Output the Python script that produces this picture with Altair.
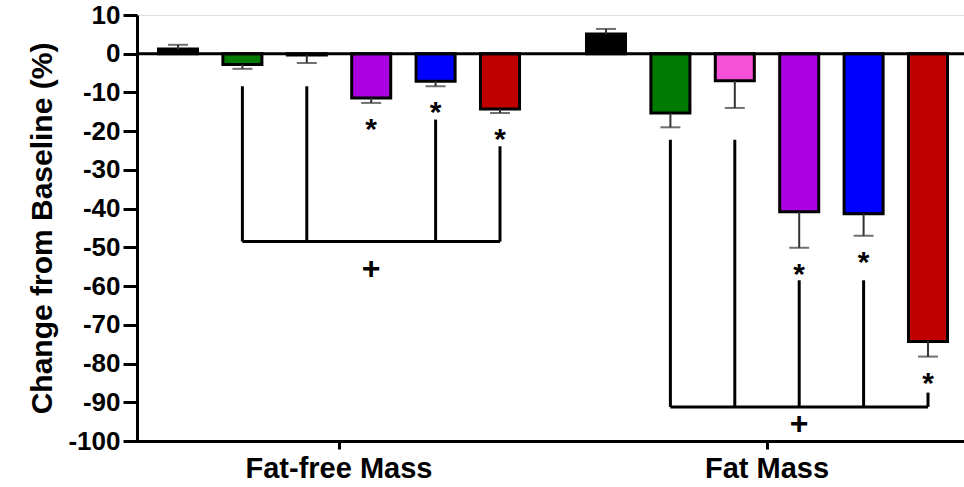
import altair as alt
import pandas as pd

# ---------------- data ----------------
groups = ["Fat-free Mass", "Fat Mass"]
series = ["Control", "Group A", "Group B", "Group C", "Group D", "Group E"]
colors = ["#000000", "#007A00", "#F650D6", "#AA00E2", "#0000FF", "#C00000"]

ffm_mean = [1.2, -2.8, -0.3, -11.4, -7.1, -14.3]
ffm_err = [1.1, 1.1, 2.1, 1.3, 1.3, 1.0]
fm_mean = [5.1, -15.3, -7.0, -40.8, -41.3, -74.3]
fm_err = [1.3, 3.7, 7.0, 9.3, 5.7, 3.9]

ffm_sig = [False, False, False, True, True, True]
fm_sig = [False, False, False, True, True, True]
asterisk_gap = 4.9

bracket_level = [-48.5, -91.2]
ffm_bracket_members = ["Group A", "Group B", "Group D", "Group E"]
ffm_bracket_tops = [-8.4, -8.4, -17.0, -23.9]
fm_bracket_members = ["Group A", "Group B", "Group C", "Group D", "Group E"]
fm_bracket_tops = [-22.2, -22.2, -58.5, -58.5, -87.5]
plus_series = "Group C"
plus_y = [-55.5, -95.5]

y_ticks = list(range(-100, 11, 10))

# ---------------- tables ----------------
rows = []
for g, means, errs, sigs in [(groups[0], ffm_mean, ffm_err, ffm_sig),
                             (groups[1], fm_mean, fm_err, fm_sig)]:
    for s, m, e, sg in zip(series, means, errs, sigs):
        cap = m + e if m >= 0 else m - e
        rows.append({"group": g, "series": s, "mean": m, "cap": cap,
                     "sig": sg, "star": cap - asterisk_gap})
bars = pd.DataFrame(rows)
stars = bars[bars["sig"]]

vrows, hrows = [], []
for g, lvl, mem, tops in [(groups[0], bracket_level[0], ffm_bracket_members, ffm_bracket_tops),
                          (groups[1], bracket_level[1], fm_bracket_members, fm_bracket_tops)]:
    for s, t in zip(mem, tops):
        vrows.append({"group": g, "series": s, "top": t, "level": lvl})
    hrows.append({"group": g, "series": mem[0], "level": lvl})
    hrows.append({"group": g, "series": mem[-1], "level": lvl})
vert = pd.DataFrame(vrows)
horiz = pd.DataFrame(hrows)
plus = pd.DataFrame({"group": groups, "series": [plus_series] * 2, "y": plus_y})
zero = pd.DataFrame({"v": [0]})

# ---------------- encodings ----------------
FONT = "Liberation Sans"
yscale = alt.Scale(domain=[-100, 10], nice=False, zero=False)
yaxis = alt.Axis(values=y_ticks, grid=False, labelFontSize=26, labelFontWeight="bold",
                 labelFont=FONT, labelColor="black", labelPadding=3,
                 labelExpr="toString(datum.value)",
                 tickSize=14, tickWidth=3, tickColor="black",
                 domainWidth=3, domainColor="black",
                 title="Change from Baseline (%)", titleFontSize=30, titleFontWeight="bold",
                 titleFont=FONT, titleColor="black", titlePadding=10)

def Y(field):
    return alt.Y(field, scale=yscale, axis=yaxis, title="Change from Baseline (%)")

X = alt.X("group:N", sort=groups,
          scale=alt.Scale(domain=groups, range=[-12, 844], paddingInner=0, paddingOuter=0),
          axis=alt.Axis(title=None, labelAngle=0, labelFontSize=29, labelFontWeight="bold",
                        labelFont=FONT, labelColor="black", labelPadding=5, labelLimit=0,
                        tickSize=8, tickWidth=3, tickColor="black",
                        domainWidth=3, domainColor="black", grid=False))
XO = alt.XOffset("series:N", sort=series,
                 scale=alt.Scale(domain=series, paddingInner=0.394, paddingOuter=0.52))

bar_layer = alt.Chart(bars).mark_bar(stroke="black", strokeWidth=3).encode(
    x=X, xOffset=XO, y=Y("mean:Q"),
    color=alt.Color("series:N", scale=alt.Scale(domain=series, range=colors), legend=None),
)
zero_layer = alt.Chart(zero).mark_rule(strokeWidth=3, color="black").encode(y=Y("v:Q"))
err_layer = alt.Chart(bars).mark_rule(strokeWidth=2, color="#333333").encode(
    x=X, xOffset=XO, y=Y("mean:Q"), y2="cap:Q")
cap_layer = alt.Chart(bars).mark_tick(size=20, thickness=2, color="#333333").encode(
    x=X, xOffset=XO, y=Y("cap:Q"))
star_layer = alt.Chart(stars).mark_text(text="*", fontSize=30, fontWeight="bold", font=FONT,
                                        baseline="middle", dy=8, color="black").encode(
    x=X, xOffset=XO, y=Y("star:Q"))
vert_layer = alt.Chart(vert).mark_rule(strokeWidth=3, color="black").encode(
    x=X, xOffset=XO, y=Y("top:Q"), y2="level:Q")
horiz_layer = alt.Chart(horiz).mark_line(strokeWidth=3, color="black").encode(
    x=X, xOffset=XO, y=Y("level:Q"), detail="group:N")
plus_layer = alt.Chart(plus).mark_text(text="+", fontSize=32, fontWeight="bold", font=FONT,
                                       baseline="middle", color="black").encode(
    x=X, xOffset=XO, y=Y("y:Q"))

chart = alt.layer(bar_layer, err_layer, cap_layer, zero_layer, vert_layer, horiz_layer,
                  star_layer, plus_layer).properties(
    width=827, height=426,
    padding={"left": 137, "top": 15, "right": 0, "bottom": 46},
    autosize=alt.AutoSizeParams(type="none"),
).configure_view(stroke=None).configure(background="white")

chart.save("out.html", embed_options={"renderer": "svg", "actions": False})
